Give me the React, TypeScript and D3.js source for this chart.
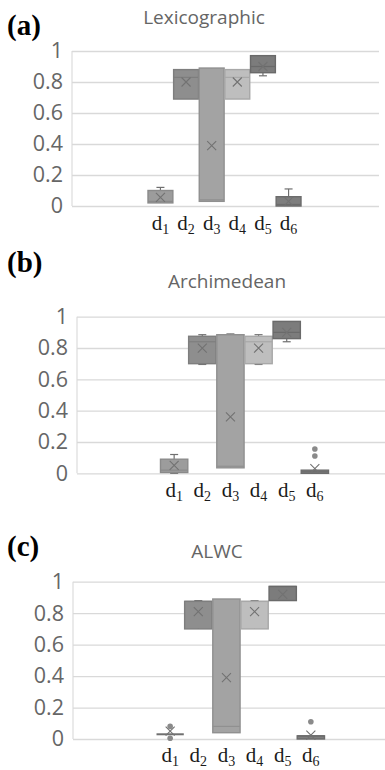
import React, { useEffect, useRef } from "react";
import * as d3 from "d3";

// subscripts of the d_i categories
const categories = ["1", "2", "3", "4", "5", "6"];
const yTicks = [0, 0.2, 0.4, 0.6, 0.8, 1];

// [min, q1, median, q3, max] for d1..d6
const lexBoxes = [
  [0.02, 0.02, 0.03, 0.1, 0.12],
  [0.69, 0.69, 0.83, 0.88, 0.88],
  [0.03, 0.03, 0.04, 0.89, 0.89],
  [0.69, 0.69, 0.83, 0.88, 0.88],
  [0.84, 0.86, 0.9, 0.97, 0.97],
  [0.0, 0.0, 0.01, 0.06, 0.11],
];
const lexMeans = [0.055, 0.8, 0.39, 0.8, 0.9, 0.03];
const lexOutliers = [[], [], [], [], [], []];

const archBoxes = [
  [0.0, 0.005, 0.02, 0.09, 0.12],
  [0.695, 0.7, 0.84, 0.875, 0.885],
  [0.035, 0.035, 0.045, 0.885, 0.89],
  [0.695, 0.7, 0.84, 0.875, 0.885],
  [0.84, 0.86, 0.9, 0.97, 0.97],
  [0.0, 0.0, 0.01, 0.02, 0.02],
];
const archMeans = [0.05, 0.8, 0.36, 0.8, 0.9, 0.03];
const archOutliers = [[], [], [], [], [], [0.11, 0.155]];

const alwcBoxes = [
  [0.03, 0.03, 0.03, 0.03, 0.03],
  [0.7, 0.7, 0.875, 0.875, 0.88],
  [0.04, 0.04, 0.08, 0.89, 0.89],
  [0.7, 0.7, 0.875, 0.875, 0.88],
  [0.88, 0.88, 0.97, 0.97, 0.97],
  [0.0, 0.0, 0.02, 0.02, 0.02],
];
const alwcMeans = [0.05, 0.81, 0.39, 0.81, 0.92, 0.025];
const alwcOutliers = [[0.005, 0.08], [], [], [], [], [0.11]];

const boxFills = ["#9c9c9c", "#8e8e8e", "#a3a3a3", "#bebebe", "#7c7c7c", "#7e7e7e"];
const boxStrokes = ["#8a8a8a", "#7e7e7e", "#909090", "#a8a8a8", "#6a6a6a", "#6c6c6c"];

const panels = [
  {
    tag: "(a)", title: "Lexicographic", boxes: lexBoxes, means: lexMeans, outliers: lexOutliers,
    left: 72, right: 379, y0: 206, y1: 51, bx0: 148, bx1: 301,
    titleX: 204, titleY: 24, tagY: 35, labelY: 230,
  },
  {
    tag: "(b)", title: "Archimedean", boxes: archBoxes, means: archMeans, outliers: archOutliers,
    left: 77, right: 385, y0: 473.3, y1: 316.7, bx0: 160.5, bx1: 328.5,
    titleX: 227, titleY: 288, tagY: 272, labelY: 497,
  },
  {
    tag: "(c)", title: "ALWC", boxes: alwcBoxes, means: alwcMeans, outliers: alwcOutliers,
    left: 73, right: 385, y0: 739, y1: 581.7, bx0: 156.5, bx1: 324.5,
    titleX: 217, titleY: 558, tagY: 556, labelY: 762,
  },
];

function drawPanel(root: any, p: any) {
  const g = root.append("g");
  const y = d3.scaleLinear().domain([0, 1]).range([p.y0, p.y1]);
  const x = d3.scaleBand().domain(categories).range([p.bx0, p.bx1]).paddingInner(0.03);

  g.append("text")
    .attr("x", 7).attr("y", p.tagY)
    .attr("font-family", "'Liberation Serif', serif").attr("font-weight", "bold")
    .attr("font-size", 29).attr("fill", "#000")
    .text(p.tag);

  g.append("text")
    .attr("x", p.titleX).attr("y", p.titleY)
    .attr("text-anchor", "middle")
    .attr("font-family", "'Open Sans', sans-serif").attr("font-size", 19)
    .attr("fill", "#656565")
    .text(p.title);

  g.append("line")
    .attr("x1", p.left).attr("x2", p.left).attr("y1", p.y1).attr("y2", p.y0)
    .attr("stroke", "#dcdcdc").attr("stroke-width", 1.2);

  const axis = d3.axisLeft(y)
    .tickValues(yTicks)
    .tickFormat(d3.format("~g") as any)
    .tickSize(-(p.right - p.left))
    .tickPadding(9);
  const ag = g.append("g").attr("transform", `translate(${p.left},0)`).call(axis);
  ag.select(".domain").remove();
  ag.selectAll(".tick line").attr("stroke", "#d9d9d9").attr("stroke-width", 1.3);
  ag.selectAll(".tick text")
    .attr("fill", "#666")
    .attr("font-family", "'Open Sans', sans-serif")
    .attr("font-size", 21.5);

  const bw = x.bandwidth();
  const cap = 8;
  p.boxes.forEach((b: number[], i: number) => {
    const [mn, q1, med, q3, mx] = b;
    const cx = x(categories[i])! + bw / 2;
    const bg = g.append("g");
    // whiskers
    bg.append("line").attr("x1", cx).attr("x2", cx).attr("y1", y(mx)).attr("y2", y(mn))
      .attr("stroke", "#6f6f6f").attr("stroke-width", 1.2);
    if (mx > q3) bg.append("line").attr("x1", cx - cap / 2).attr("x2", cx + cap / 2)
      .attr("y1", y(mx)).attr("y2", y(mx)).attr("stroke", "#6f6f6f").attr("stroke-width", 1.2);
    if (mn < q1) bg.append("line").attr("x1", cx - cap / 2).attr("x2", cx + cap / 2)
      .attr("y1", y(mn)).attr("y2", y(mn)).attr("stroke", "#6f6f6f").attr("stroke-width", 1.2);
    // box
    if (q3 > q1) {
      bg.append("rect")
        .attr("x", x(categories[i])!).attr("y", y(q3))
        .attr("width", bw).attr("height", y(q1) - y(q3))
        .attr("fill", boxFills[i]).attr("stroke", boxStrokes[i]).attr("stroke-width", 1.4);
    }
    // median
    bg.append("line")
      .attr("x1", x(categories[i])!).attr("x2", x(categories[i])! + bw)
      .attr("y1", y(med)).attr("y2", y(med))
      .attr("stroke", q3 > q1 ? boxStrokes[i] : "#707070").attr("stroke-width", q3 > q1 ? 1.2 : 2);
    // mean marker
    const m = y(p.means[i]);
    const r = 4.5;
    bg.append("path")
      .attr("d", `M${cx - r},${m - r}L${cx + r},${m + r}M${cx - r},${m + r}L${cx + r},${m - r}`)
      .attr("stroke", "#727272").attr("stroke-width", 1.1).attr("fill", "none");
    // outliers
    p.outliers[i].forEach((o: number) => {
      bg.append("circle").attr("cx", cx).attr("cy", y(o)).attr("r", 2.8).attr("fill", "#8a8a8a");
    });
    // category label d_i
    const t = g.append("text")
      .attr("x", cx).attr("y", p.labelY)
      .attr("text-anchor", "middle")
      .attr("font-family", "'Liberation Serif', serif")
      .attr("fill", "#1a1a1a");
    t.append("tspan").attr("font-size", 21).text("d");
    t.append("tspan").attr("font-size", 14).attr("dy", 4).text(categories[i]);
  });
}

export default function App() {
  const ref = useRef<SVGSVGElement>(null);
  useEffect(() => {
    const svg = d3.select(ref.current);
    svg.selectAll("*").remove();
    panels.forEach((p) => drawPanel(svg, p));
  }, []);
  return (
    <svg
      ref={ref}
      width={385}
      height={770}
      style={{ position: "absolute", left: 0, top: 0, background: "#fff" }}
    />
  );
}
